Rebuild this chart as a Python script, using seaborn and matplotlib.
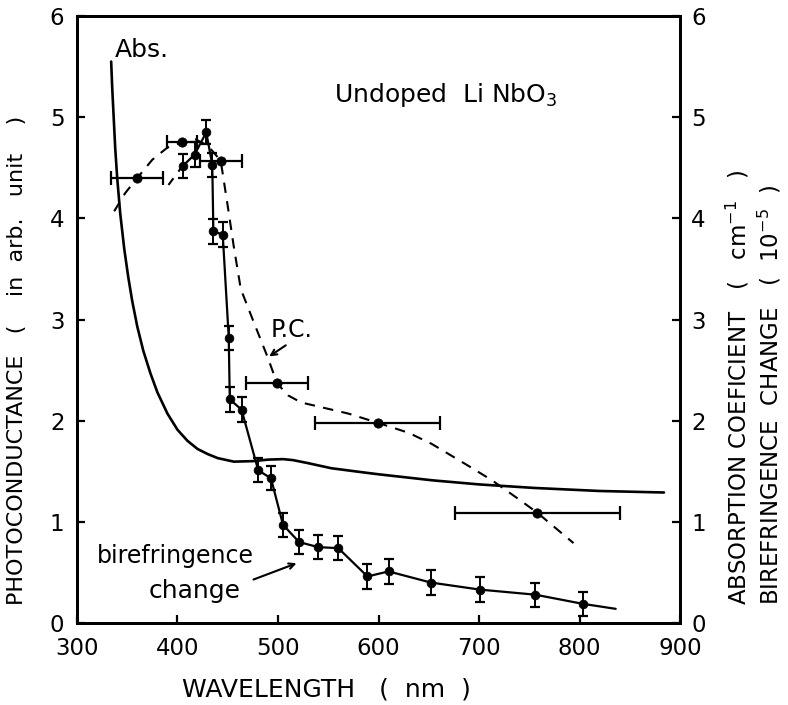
import matplotlib
matplotlib.use("Agg")
import matplotlib.pyplot as plt
import seaborn as sns
import pandas as pd

# ---------------- data ----------------
# Absorption coefficient curve (nm, cm^-1)
abs_nm = [334, 335, 336.5, 338, 340, 343, 347, 351, 355, 360, 366, 373, 380, 390,
          400, 410, 420, 430, 440, 456, 475, 490, 505, 515, 530, 553, 580, 600,
          654, 700, 755, 820, 884]
abs_val = [5.55, 5.3, 5.0, 4.7, 4.4, 4.05, 3.7, 3.42, 3.18, 2.93, 2.69, 2.47, 2.28,
           2.07, 1.91, 1.80, 1.72, 1.67, 1.63, 1.595, 1.60, 1.615, 1.62, 1.61, 1.58,
           1.53, 1.495, 1.47, 1.41, 1.37, 1.335, 1.305, 1.29]

# Photoconductance dashed trend curve
pc_curve_nm = [337, 348, 360, 375, 390, 404, 418, 430, 443, 450, 456, 463, 476, 490,
               499, 510, 523, 570, 599, 630, 653, 690, 713, 740, 758, 794]
pc_curve_val = [4.07, 4.25, 4.40, 4.58, 4.70, 4.75, 4.78, 4.72, 4.57, 4.12, 3.72, 3.30,
                2.97, 2.62, 2.37, 2.25, 2.18, 2.07, 1.98, 1.88, 1.77, 1.55, 1.41, 1.22,
                1.09, 0.79]

# Photoconductance measured points with horizontal error bars
pc_nm = [360, 404.5, 443.6, 499, 599, 758]
pc_val = [4.40, 4.75, 4.57, 2.37, 1.98, 1.09]
pc_xerr = [26, 15, 21, 31, 62, 82]

# Birefringence change points with vertical error bars
bi_nm = [405.5, 417, 428.6, 434.6, 435.7, 445, 451, 452, 463.7, 480.3, 493, 505,
         521, 540, 560, 589, 610, 652, 701, 756, 803]
bi_val = [4.52, 4.63, 4.85, 4.53, 3.87, 3.84, 2.82, 2.21, 2.11, 1.51, 1.43, 0.97,
          0.80, 0.75, 0.74, 0.46, 0.51, 0.40, 0.33, 0.28, 0.19]
bi_err = [0.12] * len(bi_nm)
# birefringence trend line (through the points, extended at the end)
bi_line_nm = bi_nm + [836]
bi_line_val = bi_val + [0.14]
# short dashed lead-in of the birefringence curve
bi_lead_nm = [391, 403]
bi_lead_val = [4.33, 4.49]

x_ticks = [300, 400, 500, 600, 700, 800, 900]
y_ticks = [0, 1, 2, 3, 4, 5, 6]

# ---------------- style ----------------
sns.set_style("ticks")
plt.rcParams["font.family"] = ["DejaVu Sans"]
plt.rcParams["mathtext.fontset"] = "dejavusans"
for k in ["text.color", "axes.labelcolor", "xtick.color", "ytick.color",
          "axes.edgecolor"]:
    plt.rcParams[k] = "black"

fig = plt.figure(figsize=(7.88, 7.05), dpi=100)
ax = fig.add_axes([0.0977, 0.1163, 0.7653, 0.861])

df_abs = pd.DataFrame({"nm": abs_nm, "v": abs_val})
df_pcc = pd.DataFrame({"nm": pc_curve_nm, "v": pc_curve_val})
df_bil = pd.DataFrame({"nm": bi_line_nm, "v": bi_line_val})
df_lead = pd.DataFrame({"nm": bi_lead_nm, "v": bi_lead_val})
df_pc = pd.DataFrame({"nm": pc_nm, "v": pc_val})
df_bi = pd.DataFrame({"nm": bi_nm, "v": bi_val})

sns.lineplot(data=df_abs, x="nm", y="v", ax=ax, color="black", lw=1.9,
             sort=False, estimator=None)
sns.lineplot(data=df_pcc, x="nm", y="v", ax=ax, color="black", lw=1.5,
             sort=False, estimator=None, linestyle=(0, (5, 4)))
sns.lineplot(data=df_lead, x="nm", y="v", ax=ax, color="black", lw=1.5,
             sort=False, estimator=None, linestyle=(0, (4, 4)))
sns.lineplot(data=df_bil, x="nm", y="v", ax=ax, color="black", lw=1.6,
             sort=False, estimator=None)

ax.errorbar(pc_nm, pc_val, xerr=pc_xerr, fmt="none", ecolor="black",
            elinewidth=1.6, capsize=5, capthick=1.6)
ax.errorbar(bi_nm, bi_val, yerr=bi_err, fmt="none", ecolor="black",
            elinewidth=1.4, capsize=3.5, capthick=1.6)
sns.scatterplot(data=df_pc, x="nm", y="v", ax=ax, color="black", s=45,
                edgecolor="black", zorder=5)
sns.scatterplot(data=df_bi, x="nm", y="v", ax=ax, color="black", s=40,
                edgecolor="black", zorder=5)

ax.set_xlim(300, 900)
ax.set_ylim(0, 6)
ax.set_xticks(x_ticks)
ax.set_yticks(y_ticks)
ax.set_xlabel("")
ax.set_ylabel("")
for s in ax.spines.values():
    s.set_visible(True)
    s.set_linewidth(2.0)
ax.tick_params(axis="both", direction="in", length=6, width=1.6, labelsize=16.5)
ax.tick_params(axis="x", pad=10)
ax.tick_params(axis="y", pad=9)

ax2 = ax.twinx()
ax2.set_ylim(0, 6)
ax2.set_yticks(y_ticks)
ax2.tick_params(axis="y", direction="in", length=6, width=1.6, labelsize=16.5, pad=8)
for s in ax2.spines.values():
    s.set_linewidth(2.0)

# ---------------- annotations ----------------
ax.text(338, 5.55, "Abs.", fontsize=18, ha="left", va="bottom")
ax.text(556, 5.22, "Undoped  Li NbO$_3$", fontsize=18, ha="left", va="center")
ax.text(493, 2.78, "P.C.", fontsize=17, ha="left", va="bottom")
ax.annotate("", xy=(489, 2.62), xytext=(510, 2.76),
            arrowprops=dict(arrowstyle="->", lw=1.5, color="black"))
ax.text(398, 0.66, "birefringence", fontsize=17, ha="center", va="center")
ax.text(417, 0.32, "change", fontsize=18, ha="center", va="center")
ax.annotate("", xy=(521, 0.60), xytext=(473, 0.42),
            arrowprops=dict(arrowstyle="->", lw=1.5, color="black"))

fig.text(182 / 788, 1 - 690 / 705, "WAVELENGTH   (  nm  )", fontsize=18,
         ha="left", va="center")
fig.text(17 / 788, 1 - 605 / 705, "PHOTOCONDUCTANCE   (    in  arb.   unit    )",
         fontsize=16, rotation=90, ha="center", va="bottom")
fig.text(738 / 788, 1 - 605 / 705, "ABSORPTION COEFICIENT   (   cm$^{-1}$   )",
         fontsize=16.5, rotation=90, ha="center", va="bottom")
fig.text(770 / 788, 1 - 605 / 705, "BIREFRINGENCE  CHANGE   (  10$^{-5}$  )",
         fontsize=16.5, rotation=90, ha="center", va="bottom")

fig.savefig("out.png", dpi=100)
